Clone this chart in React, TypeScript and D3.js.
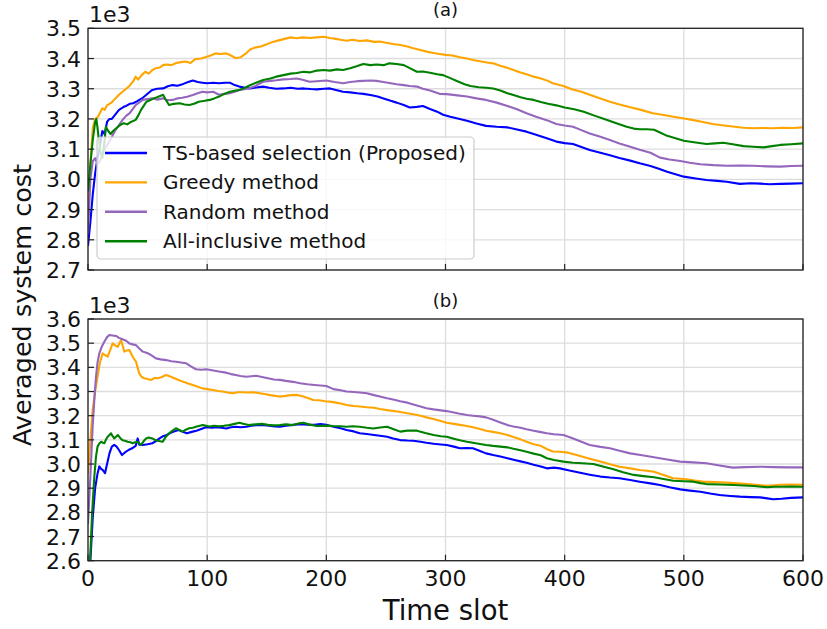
import React from 'react';
import * as d3 from 'd3';

// values, [time slot, cost / 1e3]
const topTS: [number, number][] = [[0,2.78],[2,2.86],[4,2.95],[6,3.02],[8,3.07],[10,3.11],[12,3.16],[14,3.15],[16,3.19],[18,3.2],[20,3.2],[22,3.21],[24,3.22],[26,3.23],[28,3.235],[30,3.24],[32,3.243],[35,3.25],[38,3.252],[41,3.258],[43,3.263],[46,3.27],[49,3.28],[52,3.29],[54,3.296],[58,3.3],[63,3.301],[67,3.308],[71,3.312],[75,3.31],[80,3.316],[84,3.322],[88,3.327],[92,3.322],[96,3.32],[100,3.318],[105,3.32],[110,3.318],[115,3.32],[119,3.32],[123,3.312],[127,3.307],[131,3.304],[136,3.301],[141,3.304],[147,3.307],[152,3.303],[158,3.3],[164,3.301],[170,3.303],[176,3.3],[181,3.301],[187,3.299],[192,3.298],[198,3.3],[203,3.301],[208,3.296],[214,3.29],[220,3.288],[226,3.285],[231,3.283],[237,3.279],[243,3.274],[248,3.268],[254,3.26],[259,3.254],[265,3.246],[270,3.238],[276,3.24],[281,3.243],[287,3.233],[293,3.224],[298,3.214],[304,3.207],[312,3.2],[318,3.194],[326,3.185],[334,3.177],[343,3.174],[352,3.172],[360,3.165],[368,3.158],[376,3.148],[385,3.136],[393,3.125],[400,3.12],[407,3.117],[414,3.107],[421,3.097],[430,3.088],[438,3.08],[446,3.071],[455,3.062],[463,3.053],[472,3.044],[479,3.035],[486,3.025],[493,3.017],[500,3.009],[510,3.003],[519,2.998],[528,2.995],[536,2.992],[547,2.985],[556,2.987],[564,2.986],[572,2.984],[581,2.985],[590,2.986],[600,2.987]];
const topGreedy: [number, number][] = [[0,2.85],[2,3.05],[4,3.17],[6,3.2],[8,3.205],[10,3.22],[12,3.235],[14,3.23],[16,3.245],[18,3.25],[20,3.255],[23,3.268],[26,3.28],[29,3.29],[32,3.3],[35,3.31],[38,3.325],[40,3.34],[42,3.33],[45,3.345],[48,3.356],[51,3.35],[54,3.362],[57,3.368],[60,3.37],[63,3.378],[66,3.38],[70,3.378],[74,3.385],[78,3.388],[82,3.39],[86,3.385],[90,3.398],[95,3.4],[99,3.405],[103,3.41],[107,3.417],[111,3.415],[116,3.417],[120,3.41],[124,3.401],[128,3.404],[132,3.415],[136,3.43],[140,3.436],[145,3.44],[150,3.447],[155,3.455],[160,3.46],[165,3.465],[170,3.47],[175,3.467],[180,3.47],[186,3.468],[192,3.47],[198,3.472],[203,3.468],[208,3.465],[212,3.462],[217,3.459],[222,3.462],[228,3.458],[234,3.46],[240,3.455],[245,3.456],[250,3.452],[256,3.448],[262,3.445],[268,3.44],[273,3.434],[279,3.428],[285,3.422],[290,3.418],[295,3.415],[300,3.412],[306,3.41],[312,3.404],[318,3.4],[323,3.395],[330,3.39],[336,3.386],[340,3.384],[346,3.376],[352,3.369],[357,3.362],[363,3.354],[368,3.348],[374,3.34],[380,3.334],[386,3.326],[390,3.318],[399,3.309],[406,3.298],[414,3.29],[421,3.28],[430,3.268],[438,3.257],[446,3.248],[455,3.239],[464,3.23],[474,3.219],[482,3.214],[490,3.208],[499,3.202],[508,3.196],[516,3.19],[524,3.183],[532,3.179],[541,3.175],[550,3.171],[558,3.169],[566,3.17],[575,3.169],[583,3.171],[591,3.17],[600,3.172]];
const topRandom: [number, number][] = [[0,2.82],[2,3.0],[4,3.06],[6,3.07],[8,3.05],[10,3.06],[12,3.08],[14,3.1],[17,3.12],[20,3.14],[23,3.163],[26,3.18],[29,3.197],[32,3.21],[35,3.219],[38,3.235],[40,3.246],[43,3.255],[46,3.263],[50,3.266],[54,3.268],[58,3.264],[63,3.268],[67,3.262],[71,3.263],[75,3.268],[79,3.27],[84,3.274],[88,3.279],[92,3.285],[96,3.29],[100,3.288],[105,3.29],[110,3.28],[114,3.283],[119,3.285],[123,3.29],[127,3.296],[131,3.298],[135,3.301],[141,3.31],[147,3.323],[153,3.326],[158,3.328],[164,3.331],[170,3.332],[175,3.334],[180,3.33],[186,3.323],[192,3.325],[200,3.327],[207,3.322],[214,3.318],[220,3.322],[226,3.325],[231,3.326],[237,3.327],[242,3.326],[248,3.322],[254,3.318],[259,3.315],[265,3.312],[270,3.309],[276,3.307],[281,3.3],[287,3.294],[295,3.283],[301,3.282],[310,3.278],[318,3.274],[326,3.268],[334,3.263],[343,3.254],[352,3.243],[360,3.232],[368,3.219],[376,3.207],[385,3.196],[393,3.183],[400,3.178],[407,3.174],[414,3.163],[421,3.152],[430,3.141],[438,3.13],[446,3.119],[455,3.108],[463,3.098],[472,3.088],[480,3.072],[488,3.066],[497,3.061],[505,3.055],[514,3.05],[525,3.047],[536,3.045],[547,3.046],[558,3.045],[570,3.043],[581,3.042],[590,3.044],[600,3.045]];
const topAll: [number, number][] = [[0,2.96],[2,3.05],[4,3.13],[6,3.19],[7,3.2],[8,3.17],[10,3.1],[12,3.07],[14,3.13],[15,3.174],[17,3.16],[19,3.15],[21,3.16],[24,3.17],[27,3.18],[30,3.186],[33,3.182],[36,3.19],[40,3.197],[42,3.21],[44.5,3.23],[47,3.245],[49,3.257],[52,3.262],[55,3.268],[58,3.272],[61,3.277],[63,3.28],[65,3.265],[68,3.246],[72,3.25],[77,3.252],[81,3.248],[85,3.246],[89,3.25],[93,3.257],[98,3.26],[102,3.263],[106,3.268],[110,3.274],[114,3.282],[119,3.29],[123,3.293],[127,3.296],[131,3.302],[135,3.31],[141,3.32],[147,3.329],[153,3.334],[158,3.34],[164,3.345],[170,3.35],[175,3.352],[181,3.356],[186,3.354],[192,3.36],[198,3.362],[203,3.36],[209,3.364],[214,3.362],[220,3.368],[226,3.375],[231,3.382],[237,3.378],[242,3.38],[248,3.378],[253,3.384],[259,3.382],[265,3.378],[270,3.368],[276,3.356],[281,3.357],[287,3.353],[293,3.348],[298,3.345],[304,3.335],[310,3.325],[316,3.315],[321,3.309],[328,3.305],[334,3.303],[340,3.301],[346,3.294],[352,3.285],[357,3.279],[363,3.272],[368,3.267],[374,3.263],[380,3.256],[386,3.25],[393,3.245],[400,3.238],[408,3.232],[416,3.224],[425,3.211],[435,3.197],[444,3.185],[452,3.174],[458,3.168],[463,3.166],[469,3.166],[475,3.164],[480,3.155],[486,3.144],[493,3.136],[500,3.128],[510,3.122],[519,3.117],[526,3.119],[533,3.121],[541,3.116],[550,3.11],[558,3.108],[567,3.106],[574,3.11],[581,3.114],[590,3.116],[600,3.119]];

const botTS: [number, number][] = [[0,2.3],[2,2.6],[4,2.78],[6,2.9],[8,2.96],[9.5,2.99],[11,2.98],[12.5,2.975],[14.3,2.962],[16,3.0],[18,3.044],[20,3.072],[22,3.079],[24,3.072],[26,3.058],[28.5,3.037],[31,3.048],[34,3.058],[37,3.065],[40,3.075],[41.7,3.106],[43,3.08],[46,3.079],[50,3.082],[54,3.086],[57,3.095],[60,3.106],[63,3.115],[66,3.12],[69,3.128],[72,3.134],[76,3.141],[80,3.132],[83,3.127],[87,3.133],[91,3.138],[95,3.145],[99,3.152],[104,3.15],[108,3.152],[112,3.15],[116,3.147],[120,3.152],[124,3.154],[128,3.152],[133,3.154],[137,3.158],[141,3.161],[146,3.162],[152,3.158],[157,3.155],[161,3.154],[166,3.158],[172,3.162],[178,3.165],[184,3.163],[190,3.162],[195,3.165],[200,3.162],[206,3.154],[212,3.148],[217,3.141],[223,3.135],[228,3.127],[234,3.124],[240,3.12],[245,3.117],[251,3.113],[256,3.106],[262,3.099],[268,3.097],[273,3.096],[279,3.092],[284,3.088],[290,3.084],[296,3.081],[301,3.079],[307,3.072],[312,3.065],[318,3.066],[323,3.065],[329,3.054],[334,3.044],[340,3.037],[346,3.031],[352,3.024],[358,3.017],[363,3.011],[368,3.005],[374,2.997],[380,2.99],[385,2.982],[391,2.985],[396,2.982],[404,2.973],[413,2.964],[421,2.956],[430,2.948],[438,2.944],[446,2.941],[455,2.934],[463,2.927],[472,2.92],[480,2.913],[488,2.904],[497,2.895],[505,2.89],[514,2.885],[522,2.878],[530,2.872],[539,2.868],[547,2.865],[556,2.863],[564,2.862],[570,2.858],[575,2.854],[582,2.856],[590,2.86],[600,2.862]];
const botGreedy: [number, number][] = [[0,2.96],[2,3.1],[3.9,3.223],[6,3.3],[8,3.361],[10,3.42],[12.3,3.458],[14.5,3.45],[16.5,3.444],[18.5,3.47],[20.7,3.499],[23,3.49],[25,3.485],[27.7,3.513],[30.5,3.465],[32.5,3.47],[34.7,3.472],[37.5,3.444],[40.3,3.423],[43,3.375],[45,3.36],[47.3,3.355],[50,3.352],[53,3.348],[56,3.356],[58.5,3.355],[62,3.36],[65.5,3.368],[69,3.362],[72.5,3.355],[76,3.348],[79.5,3.341],[84,3.333],[88,3.327],[92,3.32],[96,3.313],[100,3.31],[105,3.306],[109,3.302],[113,3.3],[117,3.296],[121.5,3.293],[126,3.297],[130,3.297],[134,3.296],[138,3.297],[143,3.294],[148,3.29],[153,3.285],[157,3.282],[161,3.279],[166,3.282],[170,3.285],[175,3.286],[180,3.28],[185,3.272],[189,3.265],[194,3.264],[199,3.26],[203,3.258],[208,3.254],[212,3.25],[217,3.244],[223,3.24],[228,3.238],[234,3.235],[240,3.233],[245,3.228],[251,3.223],[257,3.219],[262,3.215],[268,3.21],[273,3.206],[279,3.2],[284,3.193],[290,3.186],[296,3.178],[301,3.171],[307,3.166],[312,3.162],[318,3.157],[323,3.152],[329,3.145],[334,3.138],[340,3.133],[346,3.127],[352,3.12],[357,3.112],[363,3.102],[368,3.092],[374,3.082],[379,3.077],[385,3.062],[390,3.052],[396,3.051],[403,3.047],[413,3.033],[421,3.022],[430,3.01],[438,2.999],[446,2.989],[455,2.982],[463,2.975],[469,2.972],[475,2.968],[483,2.955],[491,2.941],[497,2.939],[502,2.937],[509,2.932],[516,2.927],[526,2.925],[536,2.923],[545,2.92],[553,2.917],[561,2.914],[570,2.91],[576,2.912],[581,2.914],[590,2.915],[600,2.914]];
const botRandom: [number, number][] = [[0,2.75],[2,2.95],[3.9,3.154],[5.5,3.28],[6.7,3.361],[8,3.42],[9.5,3.458],[11.5,3.485],[13.7,3.506],[16,3.525],[17.9,3.534],[20.5,3.532],[23.5,3.53],[26,3.522],[29,3.516],[32,3.51],[34.7,3.499],[37.5,3.495],[40.3,3.492],[43,3.478],[46,3.465],[49,3.46],[51.5,3.455],[54,3.447],[57,3.437],[61,3.433],[65.5,3.43],[70,3.425],[73.8,3.423],[78,3.42],[82.2,3.417],[86,3.405],[90.6,3.392],[95,3.39],[99,3.392],[103,3.389],[107.4,3.385],[111,3.382],[115.8,3.378],[120,3.372],[124,3.368],[128,3.364],[132.6,3.361],[137,3.363],[141,3.365],[146,3.36],[151,3.355],[156,3.35],[161,3.348],[166,3.344],[172,3.34],[178,3.334],[184,3.33],[190,3.327],[195,3.325],[200,3.323],[206,3.31],[212,3.305],[217,3.3],[223,3.298],[228,3.296],[234,3.293],[240,3.285],[245,3.279],[251,3.272],[257,3.266],[262,3.26],[268,3.254],[273,3.246],[279,3.238],[284,3.231],[290,3.226],[296,3.222],[301,3.219],[307,3.213],[312,3.208],[318,3.203],[323,3.2],[329,3.197],[334,3.193],[340,3.183],[346,3.172],[352,3.161],[357,3.155],[363,3.15],[368,3.144],[374,3.138],[379,3.133],[385,3.127],[391,3.123],[399,3.12],[406,3.108],[413,3.094],[421,3.079],[430,3.071],[438,3.065],[446,3.055],[455,3.044],[465,3.036],[475,3.028],[486,3.019],[497,3.01],[508,3.007],[519,3.003],[530,2.994],[541,2.985],[552,2.987],[564,2.989],[575,2.987],[587,2.986],[600,2.986]];
const botAll: [number, number][] = [[0,2.2],[1.7,2.6],[3.5,2.8],[5.3,2.948],[6.7,3.03],[8,3.072],[9.5,3.085],[11,3.092],[12.5,3.088],[13.7,3.086],[15,3.1],[16.5,3.113],[18,3.12],[19.3,3.127],[20.7,3.115],[22,3.106],[23.5,3.113],[25,3.12],[27,3.108],[29,3.098],[31,3.096],[33.3,3.092],[35.5,3.09],[37.5,3.086],[39.5,3.09],[41.7,3.092],[43,3.085],[44.5,3.079],[46.5,3.093],[48.7,3.106],[51,3.11],[54,3.106],[56,3.1],[58.5,3.096],[62.7,3.092],[65,3.11],[68,3.127],[71,3.138],[73.8,3.148],[77,3.14],[79.5,3.134],[82,3.142],[85,3.148],[88,3.15],[90.6,3.154],[96.3,3.161],[99,3.158],[102,3.155],[106,3.158],[110,3.156],[114,3.158],[118.6,3.161],[123,3.166],[127,3.171],[131,3.166],[135,3.161],[138,3.163],[141,3.164],[146,3.166],[151,3.162],[156,3.16],[161,3.161],[166,3.164],[172,3.161],[176,3.167],[180.7,3.171],[186,3.163],[192,3.157],[199,3.159],[206,3.157],[212,3.156],[217,3.154],[222,3.156],[228,3.154],[234,3.15],[239.5,3.147],[245,3.151],[251,3.154],[256,3.145],[262,3.134],[268,3.138],[276,3.138],[283,3.128],[290,3.12],[296,3.115],[301,3.113],[307,3.105],[312,3.098],[318,3.092],[323,3.088],[329,3.083],[334,3.079],[340,3.075],[346,3.072],[352,3.069],[357,3.063],[363,3.057],[368,3.051],[374,3.043],[380,3.036],[385,3.024],[391,3.017],[399,3.01],[407,3.005],[415,3.003],[424,3.0],[432,2.99],[441,2.978],[449,2.966],[458,2.955],[466,2.95],[475,2.945],[483,2.938],[491,2.931],[500,2.929],[508,2.927],[514,2.921],[519,2.917],[530,2.915],[542,2.913],[550,2.911],[559,2.909],[565,2.906],[570,2.904],[576,2.906],[581,2.906],[590,2.907],[600,2.906]];

const legendNames = ['TS-based selection (Proposed)', 'Greedy method', 'Random method', 'All-inclusive method'];
const colors = ['#0000ff', '#ffa500', '#9467bd', '#008000'];
const xTicks = [0, 100, 200, 300, 400, 500, 600];
const topYTicks = [2.7, 2.8, 2.9, 3.0, 3.1, 3.2, 3.3, 3.4, 3.5];
const botYTicks = [2.6, 2.7, 2.8, 2.9, 3.0, 3.1, 3.2, 3.3, 3.4, 3.5, 3.6];

const W = 827, H = 629;
const FONT = 'DejaVu Sans';
const L = 88, R = 803;
const TICK_FS = 22;

const Panel = ({ id, series, yDomain, yTicks, top, bottom, title, showXLabels, legend }: any) => {
  const x = d3.scaleLinear().domain([0, 600]).range([L, R]);
  const y = d3.scaleLinear().domain(yDomain).range([bottom, top]);
  const line = d3.line<[number, number]>().x(d => x(d[0])).y(d => y(d[1]));
  return (
    <g>
      <defs>
        <clipPath id={id}>
          <rect x={L} y={top} width={R - L} height={bottom - top} />
        </clipPath>
      </defs>
      {/* grid */}
      {xTicks.map(t => (
        <line key={'gx' + t} x1={x(t)} x2={x(t)} y1={top} y2={bottom} stroke="#dddddd" strokeWidth={1.3} />
      ))}
      {yTicks.map((t: number) => (
        <line key={'gy' + t} x1={L} x2={R} y1={y(t)} y2={y(t)} stroke="#dddddd" strokeWidth={1.3} />
      ))}
      {/* series */}
      <g clipPath={`url(#${id})`}>
        {series.map((s: [number, number][], i: number) => (
          <path key={i} d={line(s) || ''} fill="none" stroke={colors[i]} strokeWidth={2.1} strokeLinejoin="round" />
        ))}
      </g>
      {/* ticks, pointing inward */}
      {xTicks.map(t => (
        <line key={'tx' + t} x1={x(t)} x2={x(t)} y1={bottom} y2={bottom - 6} stroke="#222" strokeWidth={1.2} />
      ))}
      {yTicks.map((t: number) => (
        <line key={'ty' + t} x1={L} x2={L + 6} y1={y(t)} y2={y(t)} stroke="#222" strokeWidth={1.2} />
      ))}
      <rect x={L} y={top} width={R - L} height={bottom - top} fill="none" stroke="#222" strokeWidth={1.3} />
      {/* y labels */}
      {yTicks.map((t: number) => (
        <text key={'ly' + t} x={L - 7} y={y(t) + 0.364 * TICK_FS} textAnchor="end" fontSize={TICK_FS} fontFamily={FONT} fill="#111">
          {t.toFixed(1)}
        </text>
      ))}
      <text x={L + 1} y={top - 6} fontSize={22} fontFamily={FONT} fill="#111">1e3</text>
      <text x={(L + R) / 2} y={top - 12} textAnchor="middle" fontSize={18} fontFamily={FONT} fill="#111">{title}</text>
      {showXLabels && xTicks.map(t => (
        <text key={'lx' + t} x={x(t)} y={bottom + 25} textAnchor="middle" fontSize={TICK_FS} fontFamily={FONT} fill="#111">
          {t}
        </text>
      ))}
      {legend && (
        <g>
          <rect x={97} y={137} width={377} height={122} rx={4} fill="#ffffff" fillOpacity={0.8} stroke="#cccccc" strokeWidth={1.2} />
          {legendNames.map((n, i) => {
            const cy = 153 + i * 29.4;
            return (
              <g key={n}>
                <line x1={105} x2={147} y1={cy} y2={cy} stroke={colors[i]} strokeWidth={2.4} />
                <text x={163} y={cy + 7} fontSize={20} fontFamily={FONT} fill="#111">{n}</text>
              </g>
            );
          })}
        </g>
      )}
    </g>
  );
};

export default function App() {
  return (
    <svg width={W} height={H} style={{ position: 'absolute', left: 0, top: 0, background: '#fff' }}>
      <rect width={W} height={H} fill="#fff" />
      <Panel id="clipA" series={[topTS, topGreedy, topRandom, topAll]} yDomain={[2.7, 3.5]} yTicks={topYTicks}
        top={28.3} bottom={270} title="(a)" showXLabels={false} legend={true} />
      <Panel id="clipB" series={[botTS, botGreedy, botRandom, botAll]} yDomain={[2.6, 3.6]} yTicks={botYTicks}
        top={319} bottom={560.7} title="(b)" showXLabels={true} legend={false} />
      <text x={445.5} y={620} textAnchor="middle" fontSize={27.5} fontFamily={FONT} fill="#111">Time slot</text>
      <text transform="translate(31,305) rotate(-90)" textAnchor="middle" fontSize={25.5} fontFamily={FONT} fill="#111">
        Averaged system cost
      </text>
    </svg>
  );
}
